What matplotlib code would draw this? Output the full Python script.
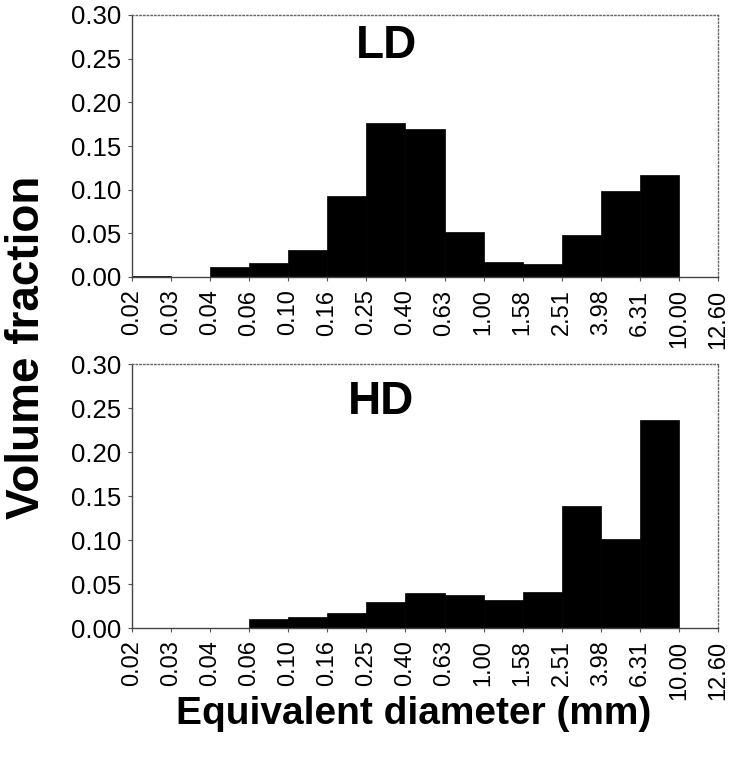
import matplotlib

matplotlib.use("Agg")

import matplotlib.pyplot as plt
import numpy as np

# bin edges shown as tick labels (mm)
edge_labels = ["0.02", "0.03", "0.04", "0.06", "0.10", "0.16", "0.25", "0.40",
               "0.63", "1.00", "1.58", "2.51", "3.98", "6.31", "10.00", "12.60"]

# volume fraction per bin (first 14 bins, 0.02 -> 10.00)
ld_fraction = [0.001, 0.0005, 0.011, 0.016, 0.031, 0.093, 0.176, 0.169,
               0.051, 0.017, 0.0145, 0.048, 0.098, 0.117]
hd_fraction = [0.0, 0.0, 0.0, 0.010, 0.012, 0.017, 0.029, 0.040,
               0.038, 0.032, 0.041, 0.139, 0.101, 0.236]

panels = [("LD", ld_fraction), ("HD", hd_fraction)]

plt.rcParams["font.family"] = ["Liberation Sans", "DejaVu Sans"]

fig = plt.figure(figsize=(7.36, 7.57), dpi=100)
W, H = 736, 757
boxes = [(132, 15, 718, 277), (132, 364, 718, 628)]
text_pos = [(386, 46), (381, 402)]

for (name, values), (x0, y0, x1, y1), (tx, ty) in zip(panels, boxes, text_pos):
    ax = fig.add_axes([x0 / W, 1 - y1 / H, (x1 - x0) / W, (y1 - y0) / H])
    ax.bar(np.arange(len(values)), values, width=1.0, align="edge",
           color="black", edgecolor="black", linewidth=0.5)
    ax.set_xlim(0, len(edge_labels) - 1)
    ax.set_ylim(0, 0.30)
    ax.set_yticks(np.arange(0, 0.301, 0.05))
    ax.set_yticklabels([f"{v:.2f}" for v in np.arange(0, 0.301, 0.05)], fontsize=18.5)
    ax.set_xticks(np.arange(len(edge_labels)))
    ax.set_xticklabels(edge_labels, rotation=90, fontsize=17)
    ax.tick_params(axis="x", length=3, width=0.8, color="#555555", pad=6)
    ax.tick_params(axis="y", length=3, width=0.8, color="#555555", pad=5)
    for side in ["top", "right"]:
        ax.spines[side].set_linestyle(":")
        ax.spines[side].set_color("#666666")
        ax.spines[side].set_linewidth(1.0)
    for side in ["left", "bottom"]:
        ax.spines[side].set_color("#444444")
        ax.spines[side].set_linewidth(1.0)
    fig.text(tx / W, 1 - ty / H, name, fontsize=33, fontweight="bold",
             ha="center", va="center")

fig.text(27 / W, 1 - 347 / H, "Volume fraction", rotation=90, fontsize=33,
         fontweight="bold", ha="center", va="center")
fig.text(414 / W, 1 - 714 / H, "Equivalent diameter (mm)", fontsize=28,
         fontweight="bold", ha="center", va="center")

fig.savefig("out.png", dpi=100)
